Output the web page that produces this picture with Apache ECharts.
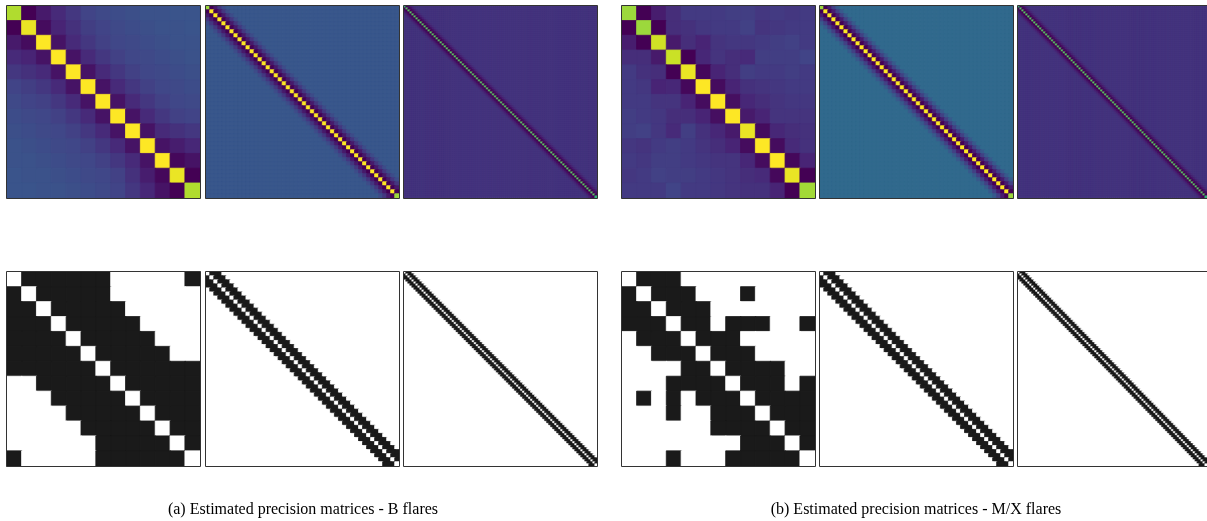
<!DOCTYPE html>
<html>
<head>
<meta charset="utf-8">
<script src="https://cdn.jsdelivr.net/npm/echarts@6/dist/echarts.min.js"></script>
<style>
  html, body { margin: 0; padding: 0; background: #ffffff; }
  #chart { width: 1207px; height: 521px; }
</style>
</head>
<body>
<div id="chart"></div>
<script>
// Estimated precision matrices, normalised to [0, 1] for the viridis scale.

// 13 x 13 estimate, B flares
const bFlaresSmall = [
  [0.88, 0.00, 0.07, 0.12, 0.16, 0.20, 0.22, 0.23, 0.24, 0.25, 0.25, 0.26, 0.26],
  [0.00, 0.97, 0.03, 0.10, 0.14, 0.18, 0.20, 0.22, 0.23, 0.24, 0.25, 0.25, 0.26],
  [0.07, 0.03, 1.00, 0.05, 0.12, 0.16, 0.19, 0.21, 0.22, 0.23, 0.24, 0.25, 0.25],
  [0.12, 0.10, 0.05, 1.00, 0.05, 0.12, 0.16, 0.19, 0.21, 0.22, 0.23, 0.24, 0.25],
  [0.16, 0.14, 0.12, 0.05, 1.00, 0.05, 0.12, 0.16, 0.19, 0.21, 0.22, 0.23, 0.24],
  [0.20, 0.18, 0.16, 0.12, 0.05, 1.00, 0.05, 0.12, 0.16, 0.19, 0.21, 0.22, 0.23],
  [0.22, 0.20, 0.19, 0.16, 0.12, 0.05, 1.00, 0.05, 0.12, 0.16, 0.19, 0.21, 0.22],
  [0.23, 0.22, 0.21, 0.19, 0.16, 0.12, 0.05, 1.00, 0.05, 0.12, 0.16, 0.19, 0.20],
  [0.24, 0.23, 0.22, 0.21, 0.19, 0.16, 0.12, 0.05, 1.00, 0.05, 0.12, 0.14, 0.16],
  [0.25, 0.24, 0.23, 0.22, 0.21, 0.19, 0.16, 0.12, 0.05, 1.00, 0.05, 0.08, 0.11],
  [0.25, 0.25, 0.24, 0.23, 0.22, 0.21, 0.19, 0.16, 0.12, 0.05, 1.00, 0.02, 0.05],
  [0.26, 0.25, 0.25, 0.24, 0.23, 0.22, 0.21, 0.19, 0.14, 0.08, 0.02, 0.97, 0.00],
  [0.26, 0.26, 0.25, 0.25, 0.24, 0.23, 0.22, 0.20, 0.16, 0.11, 0.05, 0.00, 0.88]
];

// 13 x 13 estimate, M/X flares
const mxFlaresSmall = [
  [0.85, 0.00, 0.08, 0.13, 0.17, 0.17, 0.17, 0.18, 0.18, 0.16, 0.17, 0.16, 0.17],
  [0.00, 0.85, 0.00, 0.13, 0.14, 0.16, 0.17, 0.17, 0.19, 0.15, 0.16, 0.17, 0.17],
  [0.08, 0.00, 0.93, 0.07, 0.13, 0.10, 0.15, 0.16, 0.16, 0.17, 0.18, 0.19, 0.17],
  [0.13, 0.13, 0.07, 0.92, 0.00, 0.11, 0.15, 0.13, 0.12, 0.18, 0.18, 0.18, 0.20],
  [0.17, 0.14, 0.13, 0.00, 0.97, 0.02, 0.10, 0.13, 0.18, 0.17, 0.17, 0.18, 0.17],
  [0.17, 0.16, 0.10, 0.11, 0.02, 1.00, 0.03, 0.10, 0.14, 0.15, 0.16, 0.17, 0.17],
  [0.17, 0.17, 0.15, 0.15, 0.10, 0.03, 1.00, 0.04, 0.11, 0.13, 0.15, 0.16, 0.16],
  [0.18, 0.17, 0.16, 0.13, 0.13, 0.10, 0.04, 1.00, 0.07, 0.10, 0.15, 0.15, 0.15],
  [0.18, 0.19, 0.16, 0.12, 0.18, 0.14, 0.11, 0.07, 0.97, 0.03, 0.11, 0.13, 0.14],
  [0.16, 0.15, 0.17, 0.18, 0.17, 0.15, 0.13, 0.10, 0.03, 1.00, 0.03, 0.12, 0.14],
  [0.17, 0.16, 0.18, 0.18, 0.17, 0.16, 0.15, 0.15, 0.11, 0.03, 1.00, 0.02, 0.10],
  [0.16, 0.17, 0.19, 0.18, 0.18, 0.17, 0.16, 0.15, 0.13, 0.12, 0.02, 0.97, 0.00],
  [0.17, 0.17, 0.17, 0.20, 0.17, 0.17, 0.16, 0.15, 0.14, 0.14, 0.10, 0.00, 0.86]
];

// Larger banded estimates: value on each diagonal offset |i - j|,
// the value beyond the listed offsets, and the two corner entries.
const mediumSize = 48;
const mediumBandB = [1.00, 0.00, 0.07, 0.16, 0.23];
const mediumRestB = 0.27;
const mediumCornerB = 0.85;
const mediumBandMX = [1.00, 0.00, 0.08, 0.19, 0.28];
const mediumRestMX = 0.34;
const mediumCornerMX = 0.85;

const largeSize = 96;
const largeBandB = [0.74, 0.00, 0.04, 0.09, 0.13];
const largeRestB = 0.15;
const largeCornerB = 0.66;
const largeBandMX = [0.74, 0.00, 0.04, 0.09, 0.13];
const largeRestMX = 0.15;
const largeCornerMX = 0.66;

// Support (non-zero pattern) of the estimates: '1' = edge present.
const bSupportSmall = [
  '0111111000001',
  '1011111000000',
  '1101111100000',
  '1110111110000',
  '1111011111000',
  '1111101111100',
  '1111110111111',
  '0011111011111',
  '0001111101111',
  '0000111110111',
  '0000011111011',
  '0000001111101',
  '1000001111110'
];
const mxSupportSmall = [
  '0111000000000',
  '1011100010000',
  '1101110000000',
  '1110110111001',
  '0111011100000',
  '0011101110000',
  '0000110111100',
  '0001111011101',
  '0101011101111',
  '0001001110111',
  '0000001111011',
  '0000000011101',
  '0001000111110'
];
const mediumSupportWidth = 3;
const largeSupportWidth = 3;

const VIRIDIS = ['#440154', '#482475', '#414487', '#355f8d', '#2a788e', '#21918c',
                 '#22a884', '#44bf70', '#7ad151', '#bddf26', '#fde725'];
const SUPPORT_COLORS = ['#ffffff', '#1a1a1a'];

// Colour lookup along the viridis stops
function hexToRgb(h) {
  return [parseInt(h.slice(1, 3), 16), parseInt(h.slice(3, 5), 16), parseInt(h.slice(5, 7), 16)];
}
const VIRIDIS_RGB = VIRIDIS.map(hexToRgb);
function viridis(t) {
  const s = Math.max(0, Math.min(1, t)) * (VIRIDIS_RGB.length - 1);
  const i = Math.min(Math.floor(s), VIRIDIS_RGB.length - 2);
  const f = s - i;
  const a = VIRIDIS_RGB[i], b = VIRIDIS_RGB[i + 1];
  const c = a.map((v, k) => Math.round(v + (b[k] - v) * f));
  return 'rgb(' + c.join(',') + ')';
}

function bandedMatrix(n, band, rest, corner) {
  const m = [];
  for (let i = 0; i < n; i++) {
    const row = [];
    for (let j = 0; j < n; j++) {
      const d = Math.abs(i - j);
      row.push(d < band.length ? band[d] : rest);
    }
    m.push(row);
  }
  m[0][0] = corner;
  m[n - 1][n - 1] = corner;
  return m;
}

function bandedSupport(n, width) {
  const rows = [];
  for (let i = 0; i < n; i++) {
    let s = '';
    for (let j = 0; j < n; j++) {
      const d = Math.abs(i - j);
      s += (d >= 1 && d <= width) ? '1' : '0';
    }
    rows.push(s);
  }
  return rows;
}

// Each cell carries its own fill and a matching hairline edge so that
// neighbouring cells meet without anti-aliasing seams.
function cell(j, i, v, color, edge) {
  return { value: [j, i, v], itemStyle: { color: color, borderColor: color, borderWidth: edge } };
}
function estimateCells(matrix) {
  const edge = matrix.length > 50 ? 0.5 : 0.8;
  const out = [];
  matrix.forEach((row, i) => row.forEach((v, j) => out.push(cell(j, i, v, viridis(v), edge))));
  return out;
}
function supportCells(rows) {
  const edge = rows.length > 50 ? 0.5 : 0.8;
  const out = [];
  rows.forEach((row, i) => {
    for (let j = 0; j < row.length; j++) {
      const v = Number(row[j]);
      out.push(cell(j, i, v, SUPPORT_COLORS[v], edge));
    }
  });
  return out;
}

const topPanels = [
  bFlaresSmall,
  bandedMatrix(mediumSize, mediumBandB, mediumRestB, mediumCornerB),
  bandedMatrix(largeSize, largeBandB, largeRestB, largeCornerB),
  mxFlaresSmall,
  bandedMatrix(mediumSize, mediumBandMX, mediumRestMX, mediumCornerMX),
  bandedMatrix(largeSize, largeBandMX, largeRestMX, largeCornerMX)
];
const bottomPanels = [
  bSupportSmall,
  bandedSupport(mediumSize, mediumSupportWidth),
  bandedSupport(largeSize, largeSupportWidth),
  mxSupportSmall,
  bandedSupport(mediumSize, mediumSupportWidth),
  bandedSupport(largeSize, largeSupportWidth)
];

// Panel placement
const colLeft = [7, 206, 404, 622, 820, 1018];
const panelW = 193;
const topY = 6, topH = 192;
const botY = 272, botH = 194;

const grids = [], xAxes = [], yAxes = [], series = [], graphics = [];
function addPanel(left, top, w, h, n, data) {
  const gi = grids.length;
  const idx = Array.from({ length: n }, (_, k) => String(k));
  grids.push({ left: left, top: top, width: w, height: h, containLabel: false });
  xAxes.push({ type: 'category', gridIndex: gi, data: idx, show: false });
  yAxes.push({ type: 'category', gridIndex: gi, data: idx, show: false, inverse: true });
  series.push({
    type: 'heatmap', xAxisIndex: gi, yAxisIndex: gi,
    data: data, progressive: 0, animation: false,
    emphasis: { disabled: true }
  });
  graphics.push({
    type: 'rect', z: 100, silent: true,
    shape: { x: left - 0.5, y: top - 0.5, width: w + 1, height: h + 1 },
    style: { fill: 'none', stroke: '#333333', lineWidth: 1 }
  });
}

topPanels.forEach((m, k) => addPanel(colLeft[k], topY, panelW, topH, m.length, estimateCells(m)));
bottomPanels.forEach((m, k) => addPanel(colLeft[k], botY, panelW, botH, m.length, supportCells(m)));

const captionFont = { fontFamily: 'Liberation Serif', fontSize: 16, fill: '#000000',
                      textAlign: 'center', textVerticalAlign: 'middle' };
graphics.push({
  type: 'text', silent: true,
  style: Object.assign({ text: '(a) Estimated precision matrices - B flares', x: 303, y: 510 }, captionFont)
});
graphics.push({
  type: 'text', silent: true,
  style: Object.assign({ text: '(b) Estimated precision matrices - M/X flares', x: 916, y: 510 }, captionFont)
});

const chart = echarts.init(document.getElementById('chart'), null, { renderer: 'canvas' });
chart.setOption({
  animation: false,
  backgroundColor: '#ffffff',
  grid: grids,
  xAxis: xAxes,
  yAxis: yAxes,
  series: series,
  graphic: graphics
});
</script>
</body>
</html>
